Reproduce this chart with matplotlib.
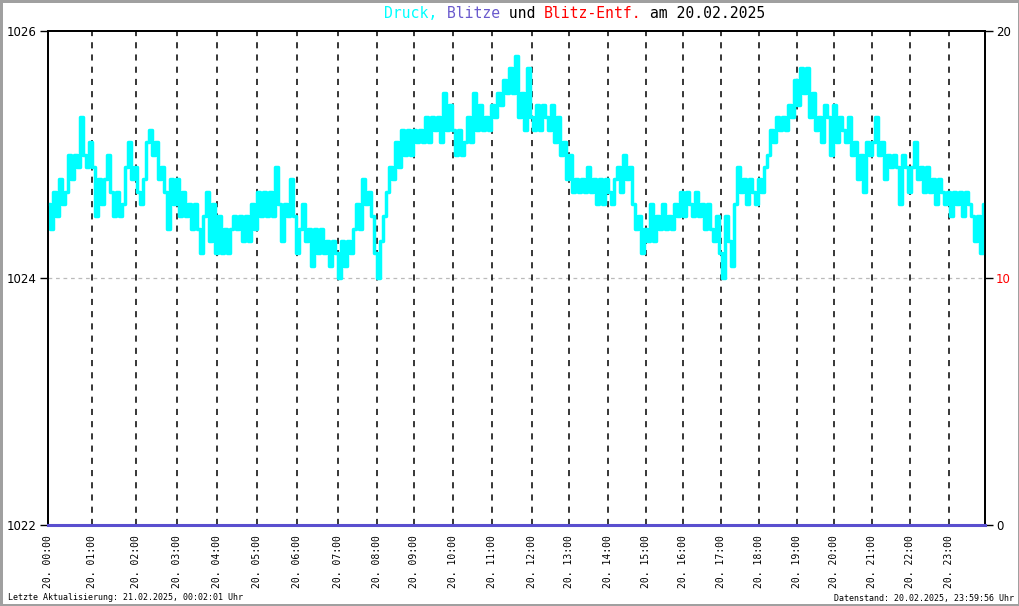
import matplotlib
matplotlib.use("Agg")
import matplotlib.pyplot as plt
import numpy as np

# pressure in tenths of hPa above 1024.0, one reading per sample step
druck_zehntel = [
    6, 4, 7, 5, 8, 6, 7, 10, 8, 10, 9, 13, 10, 9, 11, 9, 5, 8, 6, 8,
    10, 7, 5, 7, 5, 6, 9, 11, 8, 9, 7, 6, 8, 11, 12, 10, 11, 8, 9, 7,
    4, 8, 6, 8, 5, 7, 5, 6, 4, 6, 4, 2, 5, 7, 3, 6, 2, 5, 2, 4,
    2, 4, 5, 4, 5, 3, 5, 3, 6, 4, 7, 5, 7, 5, 7, 5, 9, 6, 3, 6,
    5, 8, 5, 2, 4, 6, 3, 4, 1, 4, 2, 4, 2, 3, 1, 3, 2, 0, 3, 1,
    3, 2, 4, 6, 4, 8, 6, 7, 5, 2, 0, 3, 5, 7, 9, 8, 11, 9, 12, 10,
    12, 10, 12, 11, 12, 11, 13, 11, 13, 12, 13, 11, 15, 12, 14, 12, 10, 12, 10, 11,
    13, 11, 15, 12, 14, 12, 13, 12, 14, 13, 15, 14, 16, 15, 17, 15, 18, 13, 15, 12,
    17, 13, 12, 14, 12, 14, 13, 12, 14, 11, 13, 10, 11, 8, 10, 7, 8, 7, 8, 7,
    9, 7, 8, 6, 8, 6, 8, 7, 6, 8, 9, 7, 10, 8, 9, 6, 4, 5, 2, 4,
    3, 6, 3, 5, 4, 6, 4, 5, 4, 6, 5, 7, 5, 7, 6, 5, 7, 5, 6, 4,
    6, 4, 3, 5, 2, 0, 5, 3, 1, 6, 9, 7, 8, 6, 8, 7, 6, 8, 7, 9,
    10, 12, 11, 13, 12, 13, 12, 14, 13, 16, 14, 17, 15, 17, 13, 15, 12, 13, 11, 14,
    13, 10, 14, 11, 13, 12, 11, 13, 10, 11, 8, 10, 7, 11, 10, 11, 13, 10, 11, 8,
    10, 9, 10, 9, 6, 10, 9, 7, 9, 11, 8, 9, 7, 9, 7, 8, 6, 8, 7, 6,
    7, 5, 7, 6, 7, 5, 7, 6, 5, 3, 5, 2, 6,
]
druck = 1024.0 + np.array(druck_zehntel) / 10.0

# sample index at which each full hour starts
stunden_pos = [0, 14.6, 29.3, 42.9, 56.2, 69.8, 82.9, 96.8, 109.5, 122.0,
               135.1, 147.9, 161.2, 173.8, 186.8, 199.3, 211.8, 224.2, 237.1,
               249.8, 262.1, 274.8, 287.3, 300.3]
stunden_labels = ["20. %02d:00" % h for h in range(24)]

# lightning count per hour (none on this day)
blitze = [0, 0, 0, 0, 0, 0, 0, 0, 0, 0, 0, 0,
          0, 0, 0, 0, 0, 0, 0, 0, 0, 0, 0, 0]

datum = "20.02.2025"
aktualisiert = "Letzte Aktualisierung: 21.02.2025, 00:02:01 Uhr"
datenstand = "Datenstand: 20.02.2025, 23:59:56 Uhr"

MONO = "DejaVu Sans Mono"

fig = plt.figure(figsize=(10.2, 6.06), dpi=100)
fig.patch.set_facecolor("white")
fig.patch.set_edgecolor("#a0a0a0")
fig.patch.set_linewidth(2.5)

ax = fig.add_axes([48 / 1020, 1 - 525 / 606, (985 - 48) / 1020, (525 - 31) / 606])
ax2 = ax.twinx()

x = np.arange(len(druck))
ax.plot(x, druck, color="#00ffff", lw=2.5, drawstyle="steps-mid", zorder=3)

for p in stunden_pos[1:]:
    ax.axvline(p, color="black", lw=1.1, linestyle=(0, (4, 4)), zorder=2)

ax.axhline(1024, color="#bbbbbb", lw=0.9, linestyle=(0, (3, 3)), zorder=1)

x_end = len(druck) - 0.7
ax.set_xlim(0, x_end)
ax.set_ylim(1022, 1026)
ax.set_yticks([1022, 1024, 1026])
ax.set_yticklabels(["1022", "1024", "1026"], fontsize=8.5)
ax.tick_params(axis="y", direction="out", length=6, width=1, pad=2)

ax.set_xticks(stunden_pos)
ax.set_xticklabels(stunden_labels, rotation=90, fontsize=7, family=MONO)
ax.tick_params(axis="x", length=0, pad=7)

for s in ax.spines.values():
    s.set_linewidth(1.3)

# lightning series on the right axis, drawn along zero
ax2.plot(stunden_pos + [x_end], blitze + [blitze[-1]], color="#5a4fcf",
         lw=2.2, drawstyle="steps-post", zorder=4, clip_on=False)
ax2.set_ylim(0, 20)
ax2.set_yticks([0, 10, 20])
ax2.set_yticklabels(["0", "10", "20"], fontsize=8.5)
ax2.get_yticklabels()[1].set_color("red")
ax2.tick_params(axis="y", direction="out", length=6, width=1, pad=2)
for s in ax2.spines.values():
    s.set_linewidth(1.3)

# coloured title in monospace pieces
teile = [("Druck,", "#00ffff"), (" Blitze", "#6a5acd"), (" und ", "black"),
         ("Blitz-Entf.", "red"), (" am " + datum, "black")]
fs = 10.6
char_w = 0.602 * fs * 100 / 72 / 1020
gesamt = sum(len(t) for t, _ in teile)
x0 = 575 / 1020 - gesamt * char_w / 2
n = 0
for text, farbe in teile:
    fig.text(x0 + n * char_w, 1 - 13 / 606, text, color=farbe, fontsize=fs,
             family=MONO, va="center", ha="left")
    n += len(text)

fig.text(8 / 1020, 1 - 598 / 606, aktualisiert, fontsize=6, family=MONO,
         va="center", ha="left")
fig.text(1014 / 1020, 1 - 598 / 606, datenstand, fontsize=6, family=MONO,
         va="center", ha="right")

fig.savefig("out.png", dpi=100, facecolor=fig.get_facecolor(),
            edgecolor=fig.get_edgecolor())
